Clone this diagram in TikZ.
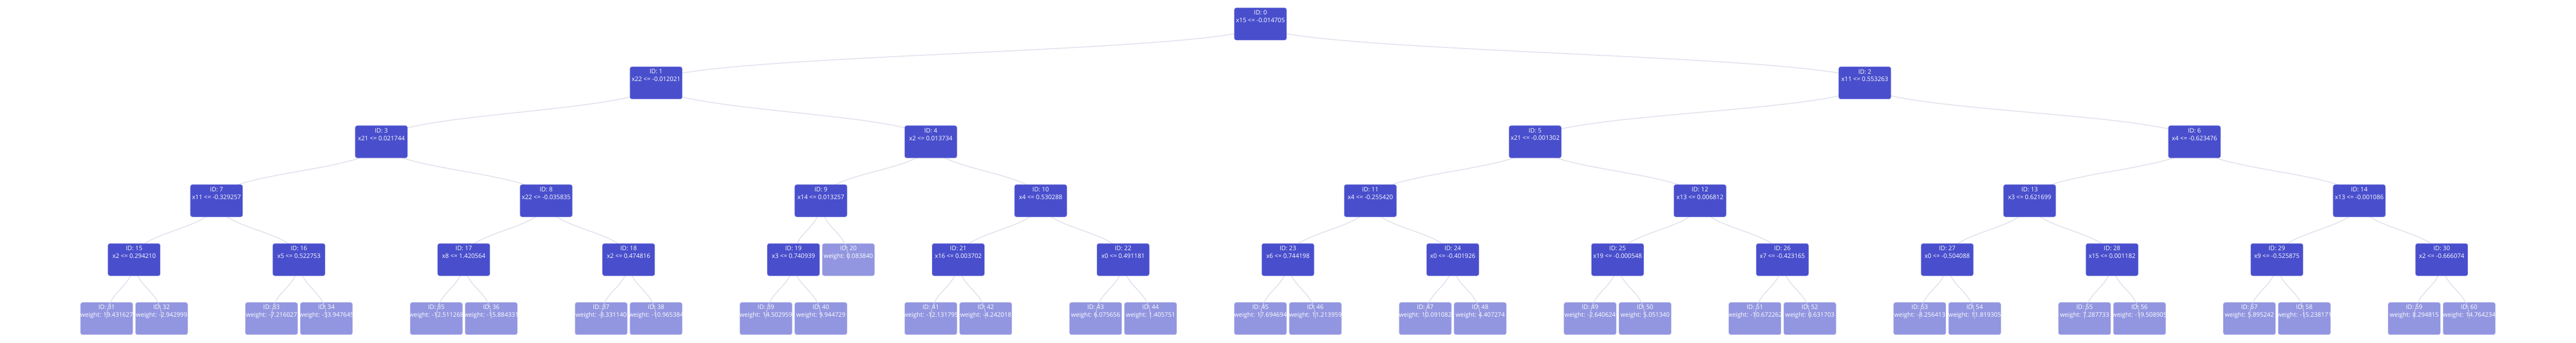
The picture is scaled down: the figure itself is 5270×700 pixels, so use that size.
\documentclass[tikz,border=0pt]{standalone}
\usepackage{fontspec}
\setmainfont{Open Sans}
\pgfdeclarelayer{bg}
\pgfdeclarelayer{leaves}
\pgfdeclarelayer{links}
\pgfsetlayers{bg,leaves,links,main}
\definecolor{nodeblue}{HTML}{494FCC}
\definecolor{nodeborder}{HTML}{6166D6}
\definecolor{leafblue}{HTML}{9296E0}
\definecolor{leafborder}{HTML}{A6A9E7}
\definecolor{edgecol}{HTML}{D4D4E6}
\tikzset{
  boxbase/.style={rectangle, rounded corners=4pt, minimum width=106.5pt, minimum height=65.5pt, inner sep=0pt},
  ibox/.style={boxbase, fill=nodeblue, draw=nodeborder, line width=0.8pt},
  lbox/.style={boxbase, fill=leafblue, draw=leafborder, line width=0.8pt},
  txt/.style={anchor=north, align=center, text=white, font=\fontsize{12.6}{15.6}\selectfont, inner sep=0pt, yshift=-5.2pt},
  linkline/.style={draw=edgecol, draw opacity=0.75, line width=1.6pt},
}
\newcommand\inode[4]{\node[ibox, label={[txt]north:{ID: #1\\#4}}] (n#1) at ({2578.6+112.4*(#2)},{-49-120.4*(#3)}) {};}
\newcommand\lnode[4]{\node[lbox, label={[txt]north:{ID: #1\\weight: #4}}] (n#1) at ({2578.6+112.4*(#2)},{-49-120.4*(#3)}) {};}
\newcommand\lnk[2]{\draw[linkline] (n#1.center) .. controls ([yshift=-60.2pt]n#1.center) and ([yshift=60.2pt]n#2.center) .. (n#2.center);}
\begin{document}
\begin{tikzpicture}[x=1pt,y=1pt]
\begin{pgfonlayer}{bg}
\fill[white] (0,0) rectangle (5270,-700);
\end{pgfonlayer}
\useasboundingbox (0,0) rectangle (5270,-700);
% internal nodes
\inode{0}{0}{0}{x15 <= -0.014705}
\inode{1}{-11}{1}{x22 <= -0.012021}
\inode{2}{11}{1}{x11 <= 0.553263}
\inode{3}{-16}{2}{x21 <= 0.021744}
\inode{4}{-6}{2}{x2 <= 0.013734}
\inode{5}{5}{2}{x21 <= -0.001302}
\inode{6}{17}{2}{x4 <= -0.623476}
\inode{7}{-19}{3}{x11 <= -0.329257}
\inode{8}{-13}{3}{x22 <= -0.035835}
\inode{9}{-8}{3}{x14 <= 0.013257}
\inode{10}{-4}{3}{x4 <= 0.530288}
\inode{11}{2}{3}{x4 <= -0.255420}
\inode{12}{8}{3}{x13 <= 0.006812}
\inode{13}{14}{3}{x3 <= 0.621699}
\inode{14}{20}{3}{x13 <= -0.001086}
\inode{15}{-20.5}{4}{x2 <= 0.294210}
\inode{16}{-17.5}{4}{x5 <= 0.522753}
\inode{17}{-14.5}{4}{x8 <= 1.420564}
\inode{18}{-11.5}{4}{x2 <= 0.474816}
\inode{19}{-8.5}{4}{x3 <= 0.740939}
\inode{21}{-5.5}{4}{x16 <= 0.003702}
\inode{22}{-2.5}{4}{x0 <= 0.491181}
\inode{23}{0.5}{4}{x6 <= 0.744198}
\inode{24}{3.5}{4}{x0 <= -0.401926}
\inode{25}{6.5}{4}{x19 <= -0.000548}
\inode{26}{9.5}{4}{x7 <= -0.423165}
\inode{27}{12.5}{4}{x0 <= -0.504088}
\inode{28}{15.5}{4}{x15 <= 0.001182}
\inode{29}{18.5}{4}{x9 <= -0.525875}
\inode{30}{21.5}{4}{x2 <= -0.666074}
% leaves
\begin{pgfonlayer}{leaves}
\lnode{20}{-7.5}{4}{0.083840}
\lnode{31}{-21}{5}{19.431627}
\lnode{32}{-20}{5}{-2.942999}
\lnode{33}{-18}{5}{-7.216027}
\lnode{34}{-17}{5}{-33.947645}
\lnode{35}{-15}{5}{-12.511268}
\lnode{36}{-14}{5}{-15.884331}
\lnode{37}{-12}{5}{-8.331140}
\lnode{38}{-11}{5}{-10.965384}
\lnode{39}{-9}{5}{14.502959}
\lnode{40}{-8}{5}{9.944729}
\lnode{41}{-6}{5}{-12.131795}
\lnode{42}{-5}{5}{-4.242018}
\lnode{43}{-3}{5}{6.075656}
\lnode{44}{-2}{5}{1.405751}
\lnode{45}{0}{5}{17.694694}
\lnode{46}{1}{5}{11.213959}
\lnode{47}{3}{5}{10.091082}
\lnode{48}{4}{5}{4.407274}
\lnode{49}{6}{5}{-2.640624}
\lnode{50}{7}{5}{5.051340}
\lnode{51}{9}{5}{-10.672262}
\lnode{52}{10}{5}{0.631703}
\lnode{53}{12}{5}{-8.256413}
\lnode{54}{13}{5}{11.819305}
\lnode{55}{15}{5}{7.287733}
\lnode{56}{16}{5}{-19.508905}
\lnode{57}{18}{5}{5.895242}
\lnode{58}{19}{5}{-15.238171}
\lnode{59}{21}{5}{8.294815}
\lnode{60}{22}{5}{14.764234}
\end{pgfonlayer}
% links
\begin{pgfonlayer}{links}
\lnk{0}{1}\lnk{0}{2}
\lnk{1}{3}\lnk{1}{4}\lnk{2}{5}\lnk{2}{6}
\lnk{3}{7}\lnk{3}{8}\lnk{4}{9}\lnk{4}{10}\lnk{5}{11}\lnk{5}{12}\lnk{6}{13}\lnk{6}{14}
\lnk{7}{15}\lnk{7}{16}\lnk{8}{17}\lnk{8}{18}\lnk{9}{19}\lnk{9}{20}\lnk{10}{21}\lnk{10}{22}
\lnk{11}{23}\lnk{11}{24}\lnk{12}{25}\lnk{12}{26}\lnk{13}{27}\lnk{13}{28}\lnk{14}{29}\lnk{14}{30}
\lnk{15}{31}\lnk{15}{32}\lnk{16}{33}\lnk{16}{34}\lnk{17}{35}\lnk{17}{36}\lnk{18}{37}\lnk{18}{38}
\lnk{19}{39}\lnk{19}{40}\lnk{21}{41}\lnk{21}{42}\lnk{22}{43}\lnk{22}{44}
\lnk{23}{45}\lnk{23}{46}\lnk{24}{47}\lnk{24}{48}\lnk{25}{49}\lnk{25}{50}\lnk{26}{51}\lnk{26}{52}
\lnk{27}{53}\lnk{27}{54}\lnk{28}{55}\lnk{28}{56}\lnk{29}{57}\lnk{29}{58}\lnk{30}{59}\lnk{30}{60}
\end{pgfonlayer}
\end{tikzpicture}
\end{document}
